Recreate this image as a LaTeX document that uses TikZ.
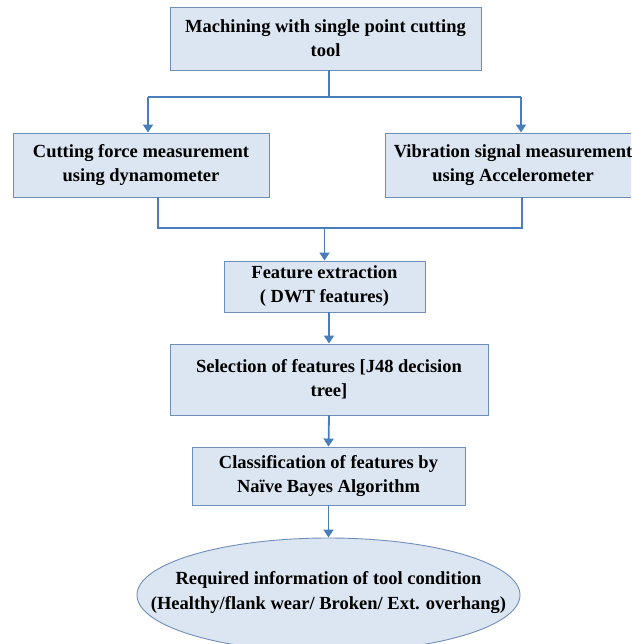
\documentclass[tikz,border=0pt]{standalone}
\usepackage{fontspec}
\setmainfont{Liberation Serif}
\usetikzlibrary{shapes.geometric,arrows.meta}
\definecolor{boxfill}{RGB}{220,230,242}
\definecolor{boxline}{RGB}{112,142,186}
\definecolor{connline}{RGB}{74,126,187}
\begin{document}
\begin{tikzpicture}[x=1pt,y=1pt]
   \tikzset{stepbox/.style = {shape=rectangle,draw=boxline,fill=boxfill,line width=0.9pt,inner sep=0pt,align=center,
              font=\fontsize{18.5}{24}\selectfont\bfseries},
            terminal/.style = {stepbox,shape=ellipse},
            conn/.style = {draw=connline,line width=2.6pt},
            arr/.style = {draw=connline,line width=1.8pt,-{Triangle[width=10pt,length=8pt]}}}
   \useasboundingbox (0,0) rectangle (631,-644);
   \clip (0,0) rectangle (631,-644);
   \node[stepbox,minimum width=311,minimum height=63] (top) at (325.5,-38.5) {Machining with single point cutting\\tool};
   \node[stepbox,minimum width=256,minimum height=64] (force) at (141,-165) {Cutting force measurement\\using dynamometer};
   \node[stepbox,minimum width=256,minimum height=64] (vib) at (513,-165) {Vibration signal measurement\\using Accelerometer};
   \node[stepbox,minimum width=201,minimum height=51] (feat) at (324.5,-286.5) {Feature extraction\\( DWT features)};
   \node[stepbox,minimum width=318,minimum height=71] (select) at (329,-379.5) {Selection of features [J48 decision\\tree]};
   \node[stepbox,minimum width=273,minimum height=58] (classify) at (328.5,-476) {Classification of features by\\Naïve Bayes Algorithm};
   \node[terminal,minimum width=383,minimum height=114,
         label={[font=\fontsize{18.5}{25}\selectfont\bfseries,align=center,yshift=2pt]center:Required information of tool condition\\(Healthy/flank wear/ Broken/ Ext. overhang)}] (info) at (328.5,-595) {};

   \coordinate (split) at (329,-97);
   \coordinate (splitL) at (148,-97);
   \coordinate (splitR) at (521,-97);
   \coordinate (mergeL) at (158,-228);
   \coordinate (mergeR) at (522,-228);

   \draw[conn] (top.south -| split) -- (split);
   \draw[conn] (splitL) -- (splitR);
   \draw[arr] (splitL) -- (splitL |- force.north);
   \draw[arr] (splitR) -- (splitR |- vib.north);
   \draw[conn] (mergeL |- force.south) -- (mergeL) -- (mergeR) -- (mergeR |- vib.south);
   \draw[arr] (feat.north |- mergeL) -- (feat.north);
   \draw[arr] (select.north |- feat.south) -- (select.north);
   \draw[arr] (select.south) -- (classify.north);
   \draw[arr] (classify.south) -- (info.north);
  \end{tikzpicture}
\end{document}
